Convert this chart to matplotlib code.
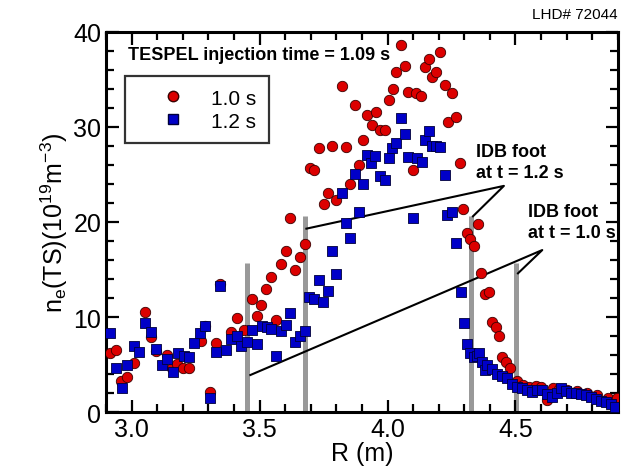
import matplotlib
matplotlib.use("Agg")
import matplotlib.pyplot as plt
from matplotlib.lines import Line2D

plt.rcParams['font.family'] = ['Liberation Sans', 'DejaVu Sans']
plt.rcParams['mathtext.fontset'] = 'custom'
plt.rcParams['mathtext.rm'] = 'Liberation Sans'
plt.rcParams['mathtext.it'] = 'Liberation Sans'

# ne profile at t = 1.0 s (R in m, ne in 1e19 m^-3)
r_10 = [2.916, 2.940, 2.960, 2.983, 3.010, 3.052, 3.075, 3.096, 3.140, 3.158,
        3.179, 3.202, 3.225, 3.271, 3.288, 3.307, 3.330, 3.347, 3.389, 3.410,
        3.440, 3.470, 3.490, 3.507, 3.526, 3.545, 3.566, 3.584, 3.603, 3.620,
        3.640, 3.659, 3.679, 3.696, 3.714, 3.731, 3.750, 3.766, 3.785, 3.800,
        3.821, 3.836, 3.855, 3.871, 3.887, 3.903, 3.921, 3.940, 3.956, 3.972,
        3.989, 4.005, 4.020, 4.035, 4.051, 4.067, 4.081, 4.099, 4.113, 4.129,
        4.146, 4.161, 4.175, 4.191, 4.207, 4.223, 4.236, 4.253, 4.266, 4.283,
        4.295, 4.312, 4.324, 4.337, 4.352, 4.365, 4.382, 4.395, 4.408, 4.424,
        4.437, 4.447, 4.463, 4.479, 4.505, 4.530, 4.555, 4.580, 4.600, 4.625,
        4.645, 4.670, 4.700, 4.740, 4.780, 4.820, 4.860, 4.896]
ne_10 = [6.2, 6.5, 3.3, 3.65, 5.2, 10.5, 7.9, 6.45, 6.0, 4.6,
         5.1, 4.65, 4.65, 7.5, 9.1, 2.1, 7.3, 13.5, 8.4, 9.85,
         8.6, 11.85, 10.15, 11.3, 13.0, 14.25, 9.7, 15.6, 17.0, 20.4,
         15.0, 16.35, 17.65, 25.65, 25.5, 27.8, 21.9, 23.1, 28.0, 22.3,
         34.35, 27.9, 24.0, 32.3, 26.0, 28.6, 31.25, 30.2, 31.6, 29.7,
         29.7, 32.8, 34.0, 35.75, 38.6, 36.45, 33.7, 25.5, 33.55, 33.25,
         36.35, 37.1, 35.3, 35.8, 37.9, 34.4, 30.55, 33.6, 31.1, 26.2,
         21.35, 18.8, 18.2, 17.5, 19.8, 14.6, 12.4, 12.65, 9.5, 9.0,
         8.0, 5.8, 5.3, 4.6, 3.3, 2.85, 2.65, 2.7, 2.6, 1.25,
         2.5, 2.4, 2.3, 2.2, 2.0, 1.8, 1.5, 1.45]

# ne profile at t = 1.2 s
r_12 = [2.916, 2.940, 2.961, 2.983, 3.010, 3.029, 3.052, 3.075, 3.096, 3.118,
        3.140, 3.160, 3.182, 3.205, 3.225, 3.245, 3.267, 3.288, 3.307, 3.330,
        3.347, 3.369, 3.389, 3.410, 3.428, 3.450, 3.470, 3.490, 3.510, 3.529,
        3.545, 3.565, 3.584, 3.603, 3.620, 3.640, 3.659, 3.679, 3.695, 3.714,
        3.731, 3.748, 3.766, 3.785, 3.800, 3.821, 3.836, 3.855, 3.871, 3.887,
        3.903, 3.921, 3.934, 3.953, 3.972, 3.989, 4.005, 4.019, 4.034, 4.051,
        4.067, 4.081, 4.099, 4.116, 4.133, 4.146, 4.161, 4.172, 4.191, 4.207,
        4.223, 4.231, 4.253, 4.266, 4.286, 4.298, 4.312, 4.324, 4.337, 4.348,
        4.356, 4.370, 4.382, 4.390, 4.410, 4.429, 4.449, 4.468, 4.488, 4.507,
        4.527, 4.547, 4.566, 4.586, 4.605, 4.625, 4.644, 4.664, 4.677, 4.697,
        4.716, 4.736, 4.755, 4.775, 4.794, 4.814, 4.833, 4.853, 4.873, 4.888]
ne_12 = [8.35, 4.6, 2.5, 5.0, 7.0, 6.35, 9.4, 8.4, 6.6, 5.0,
         5.6, 4.25, 6.2, 5.9, 5.75, 7.3, 8.35, 9.05, 1.5, 6.3,
         13.25, 6.5, 7.7, 8.0, 6.95, 7.4, 8.6, 7.2, 9.1, 9.0,
         8.75, 5.9, 8.55, 9.15, 10.45, 7.4, 8.0, 8.5, 12.15, 11.85,
         13.9, 11.6, 12.7, 16.9, 14.5, 23.1, 19.9, 18.3, 25.05, 21.1,
         24.0, 27.05, 26.2, 26.9, 24.8, 24.4, 26.7, 27.75, 28.3, 30.9,
         29.25, 26.8, 20.4, 26.7, 26.35, 28.6, 29.6, 28.0, 28.0, 27.9,
         24.9, 20.7, 21.1, 17.75, 12.65, 9.4, 7.2, 6.2, 5.8, 5.9,
         6.2, 5.3, 4.4, 4.95, 4.5, 4.05, 3.8, 3.55, 3.0, 2.65,
         2.5, 2.3, 2.15, 2.3, 2.3, 1.9, 1.6, 2.0, 2.5, 2.2,
         2.0, 2.0, 1.9, 1.8, 1.6, 1.4, 1.2, 1.05, 0.9, 0.55]

# IDB foot positions and marker heights
foot_r = [3.452, 3.679, 4.325, 4.501]
foot_top = [15.7, 20.6, 20.6, 15.7]

fig = plt.figure(figsize=(6.24, 4.77), dpi=100)
ax = fig.add_axes([0.170, 0.134, 0.820, 0.797])

for r, top in zip(foot_r, foot_top):
    ax.plot([r, r], [0, top], color='#999999', lw=3.6, solid_capstyle='butt', zorder=1)

# annotation lines
ax.plot([3.683, 4.455, 4.334], [19.3, 23.8, 20.6], color='black', lw=1.5, zorder=2)
ax.plot([3.464, 4.605, 4.51], [3.9, 17.05, 14.6], color='black', lw=1.5, zorder=2)

ax.scatter(r_10, ne_10, s=56, marker='o', color='#dc0000', edgecolors='#3a0000',
           linewidths=0.6, zorder=3)
ax.scatter(r_12, ne_12, s=50, marker='s', color='#0000c8', edgecolors='#00003a',
           linewidths=0.6, zorder=4)

ax.set_xlim(2.9, 4.9)
ax.set_ylim(0, 40)
ax.set_xticks([3.0, 3.5, 4.0, 4.5])
ax.set_xticklabels(['3.0', '3.5', '4.0', '4.5'])
ax.set_xticks([2.9 + 0.1 * i for i in range(21)], minor=True)
ax.set_yticks([0, 10, 20, 30, 40])
ax.set_yticks(range(0, 41, 2), minor=True)
ax.tick_params(which='both', direction='in', top=True, right=True, width=1.6,
               labelsize=18)
ax.tick_params(which='major', length=9)
ax.tick_params(which='minor', length=6)
for sp in ax.spines.values():
    sp.set_linewidth(2.2)

ax.set_xlabel('R (m)', fontsize=18, labelpad=0)
ax.set_ylabel(r'n$_\mathrm{e}$(TS)(10$^{19}$m$^{-3}$)', fontsize=18, labelpad=2)

tfont = dict(family=['Liberation Sans Narrow', 'Liberation Sans'], weight='bold', fontsize=13)
ax.text(0.043, 37.6, 'TESPEL injection time = 1.09 s', transform=ax.get_yaxis_transform(),
        va='center', ha='left', **tfont)
ax.text(4.344, 26.3, 'IDB foot\nat t = 1.2 s', va='center', ha='left',
        linespacing=1.25, **tfont)
ax.text(4.548, 20.0, 'IDB foot\nat t = 1.0 s', va='center', ha='left',
        linespacing=1.25, **tfont)
fig.text(0.99, 0.968, 'LHD# 72044', ha='right', va='center', fontsize=11)

handles = [Line2D([], [], marker='o', ls='none', color='#dc0000', markeredgecolor='#3a0000',
                  markersize=7.5, label='1.0 s'),
           Line2D([], [], marker='s', ls='none', color='#0000c8', markeredgecolor='#00003a',
                  markersize=7, label='1.2 s')]
leg = ax.legend(handles=handles, loc='upper left', bbox_to_anchor=(0.037, 0.884),
                fontsize=15, frameon=True, fancybox=False, edgecolor='black',
                borderpad=0.6, handletextpad=0.15, borderaxespad=0, labelspacing=0.2,
                handlelength=3.4)
leg.get_frame().set_linewidth(1.6)
leg.get_frame().set_facecolor('white')

fig.savefig('out.png', dpi=100)
